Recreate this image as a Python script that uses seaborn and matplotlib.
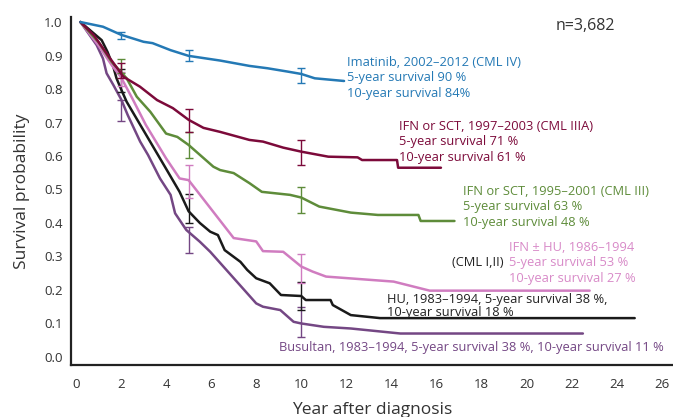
import numpy as np
import pandas as pd
import seaborn as sns
import matplotlib
matplotlib.use('Agg')
import matplotlib.pyplot as plt

# Kaplan-Meier curves (years, survival)
imatinib_t = [0.2, 1.2, 2.0, 3.0, 3.4, 4.2, 5.0, 6.4, 7.7, 8.5, 9.4, 10.0, 10.6, 11.9]
imatinib_s = [1.0, 0.986, 0.962, 0.941, 0.937, 0.916, 0.899, 0.885, 0.869, 0.862, 0.852, 0.845, 0.832, 0.824]

cml3a_t = [0.2, 0.8, 1.5, 2.1, 2.84, 3.6, 4.3, 5.0, 5.66, 6.4, 7.7, 8.3, 9.2, 10.0, 11.2, 12.5, 12.7, 14.25, 14.3, 16.2]
cml3a_s = [1.0, 0.96, 0.893, 0.837, 0.807, 0.767, 0.743, 0.708, 0.684, 0.672, 0.648, 0.643, 0.625, 0.613, 0.598, 0.596, 0.588, 0.588, 0.565, 0.565]

cml3_t = [0.2, 1.0, 1.6, 2.25, 2.7, 3.3, 4.0, 4.5, 5.0, 6.1, 6.4, 7.0, 7.7, 8.25, 9.5, 10.0, 10.8, 12.2, 13.4, 15.2, 15.3, 16.8]
cml3_s = [1.0, 0.94, 0.88, 0.832, 0.777, 0.732, 0.667, 0.657, 0.633, 0.568, 0.558, 0.549, 0.519, 0.493, 0.484, 0.476, 0.449, 0.431, 0.424, 0.424, 0.406, 0.406]

ifnhu_t = [0.2, 1.0, 1.6, 2.0, 2.5, 3.1, 4.0, 4.6, 5.0, 7.0, 8.0, 8.3, 9.2, 10.0, 10.5, 11.1, 13.1, 14.1, 15.7, 22.8]
ifnhu_s = [1.0, 0.93, 0.87, 0.835, 0.772, 0.693, 0.593, 0.533, 0.528, 0.355, 0.345, 0.316, 0.314, 0.27, 0.255, 0.24, 0.23, 0.225, 0.198, 0.198]

hu_t = [0.2, 1.14, 1.4, 1.66, 1.8, 2.0, 2.25, 4.0, 4.6, 5.0, 5.5, 5.96, 6.3, 6.6, 7.3, 7.6, 8.0, 8.6, 9.1, 10.0, 10.2, 11.3, 11.4, 12.2, 13.5, 24.8]
hu_s = [1.0, 0.946, 0.911, 0.866, 0.832, 0.80, 0.762, 0.562, 0.493, 0.435, 0.40, 0.374, 0.364, 0.319, 0.284, 0.26, 0.235, 0.22, 0.185, 0.182, 0.17, 0.17, 0.155, 0.125, 0.116, 0.116]

busulfan_t = [0.2, 0.92, 1.2, 1.36, 1.66, 2.0, 2.3, 2.85, 3.2, 3.73, 4.2, 4.4, 4.9, 5.5, 5.96, 8.0, 8.3, 9.07, 9.66, 10.0, 11.0, 12.2, 14.4, 22.5]
busulfan_s = [1.0, 0.931, 0.891, 0.847, 0.812, 0.77, 0.722, 0.643, 0.603, 0.533, 0.484, 0.429, 0.379, 0.344, 0.314, 0.16, 0.15, 0.14, 0.105, 0.10, 0.09, 0.085, 0.07, 0.07]

# confidence intervals at 2, 5 and 10 years (low, high)
ci_years = [2, 5, 10]
imatinib_ci = [(0.949, 0.971), (0.885, 0.916), (0.817, 0.862)]
cml3a_ci = [(0.833, 0.877), (0.673, 0.740), (0.573, 0.648)]
cml3_ci = [(0.848, 0.889), (0.593, 0.672), (0.431, 0.508)]
ifnhu_ci = [(0.81, 0.85), (0.475, 0.573), (0.22, 0.307)]
hu_ci = [(0.79, 0.86), (0.40, 0.488), (0.14, 0.225)]
busulfan_ci = [(0.705, 0.767), (0.31, 0.389), (0.06, 0.15)]

colors = {
    'imatinib': '#2479b5',
    'cml3a': '#7c0a3a',
    'cml3': '#5e8c3a',
    'ifnhu': '#d07cc0',
    'hu': '#1a1a1a',
    'busulfan': '#744784',
}

series = [
    ('busulfan', busulfan_t, busulfan_s, busulfan_ci),
    ('hu', hu_t, hu_s, hu_ci),
    ('ifnhu', ifnhu_t, ifnhu_s, ifnhu_ci),
    ('cml3', cml3_t, cml3_s, cml3_ci),
    ('cml3a', cml3a_t, cml3a_s, cml3a_ci),
    ('imatinib', imatinib_t, imatinib_s, imatinib_ci),
]

sns.set_style('white')
plt.rcParams['font.family'] = ['Open Sans', 'DejaVu Sans']

fig = plt.figure(figsize=(6.73, 4.17), dpi=100)
ax = fig.add_axes([0.1055, 0.1247, 0.8945, 0.8345])

for name, t, s, ci in series:
    df = pd.DataFrame({'t': t, 's': s})
    sns.lineplot(data=df, x='t', y='s', color=colors[name], lw=1.8,
                 estimator=None, sort=False, ax=ax)
    lo = np.array([c[0] for c in ci])
    hi = np.array([c[1] for c in ci])
    mid = (lo + hi) / 2
    ax.errorbar(ci_years, mid, yerr=[mid - lo, hi - mid], fmt='none',
                ecolor=colors[name], elinewidth=1.0, capsize=3, capthick=1.0)

ax.set_xlim(-0.22, 26.5)
ax.set_ylim(-0.024, 1.015)
ax.set_xticks(range(0, 27, 2))
ax.set_yticks(np.arange(0, 1.01, 0.1))
ax.set_yticklabels([f'{v:.1f}' for v in np.arange(0, 1.01, 0.1)])
ax.tick_params(length=0, labelsize=9.5, labelcolor='#333333')
ax.tick_params(axis='x', pad=9)
ax.tick_params(axis='y', pad=6)

for side in ['top', 'right']:
    ax.spines[side].set_visible(False)
for side in ['left', 'bottom']:
    ax.spines[side].set_color('#222222')
    ax.spines[side].set_linewidth(1.6)

ax.set_xlabel('Year after diagnosis', fontsize=12.5, color='#333333', labelpad=8)
ax.set_ylabel('Survival probability', fontsize=12.5, color='#333333', labelpad=10)

fs = 9.3
ax.text(22.6, 0.988, 'n=3,682', fontsize=11.5, color='#333333', ha='center', va='center')
ax.text(12.04, 0.833, 'Imatinib, 2002–2012 (CML IV)\n5-year survival 90 %\n10-year survival 84%',
        fontsize=fs, color=colors['imatinib'], ha='left', va='center', linespacing=1.22)
ax.text(14.36, 0.642, 'IFN or SCT, 1997–2003 (CML IIIA)\n5-year survival 71 %\n10-year survival 61 %',
        fontsize=fs, color=colors['cml3a'], ha='left', va='center', linespacing=1.22)
ax.text(17.2, 0.448, 'IFN or SCT, 1995–2001 (CML III)\n5-year survival 63 %\n10-year survival 48 %',
        fontsize=fs, color=colors['cml3'], ha='left', va='center', linespacing=1.22)
ax.text(19.24, 0.281, 'IFN ± HU, 1986–1994\n5-year survival 53 %\n10-year survival 27 %',
        fontsize=fs, color='#d88ac8', ha='left', va='center', linespacing=1.22)
ax.text(18.98, 0.281, '(CML I,II)', fontsize=fs, color='#222222', ha='right', va='center')
ax.text(13.82, 0.152, 'HU, 1983–1994, 5-year survival 38 %,\n10-year survival 18 %',
        fontsize=fs, color='#222222', ha='left', va='center', linespacing=1.05)
ax.text(26.09, 0.027, 'Busultan, 1983–1994, 5-year survival 38 %, 10-year survival 11 %',
        fontsize=fs, color=colors['busulfan'], ha='right', va='center')

fig.savefig('out.png', dpi=100)
